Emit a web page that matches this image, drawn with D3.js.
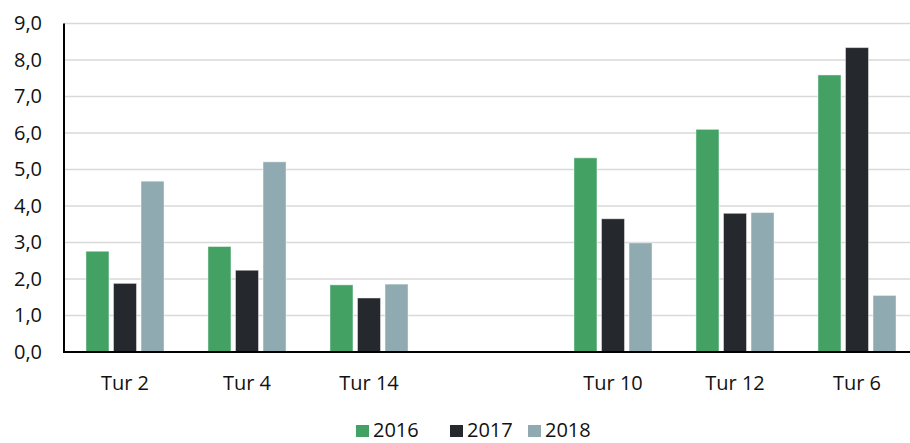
<!DOCTYPE html>
<html>
<head>
<meta charset="utf-8">
<script src="https://cdn.jsdelivr.net/npm/d3@7"></script>
<style>
  html, body { margin: 0; padding: 0; background: #ffffff; }
  svg { display: block; }
</style>
</head>
<body>
<svg id="chart"></svg>
<script>
// Chart data
const categories = ["Tur 2", "Tur 4", "Tur 14", "", "Tur 10", "Tur 12", "Tur 6"];
const seriesNames = ["2016", "2017", "2018"];
const values2016 = [2.76, 2.89, 1.84, null, 5.32, 6.10, 7.59];
const values2017 = [1.88, 2.24, 1.48, null, 3.65, 3.80, 8.34];
const values2018 = [4.68, 5.21, 1.86, null, 2.99, 3.82, 1.55];
const yTicks = [0, 1, 2, 3, 4, 5, 6, 7, 8, 9];
const colors = ["#43A163", "#25282C", "#8FAAB1"];

const width = 910, height = 443;
const margin = { top: 23.5, left: 64, bottom: 352, right: 918 };

const svg = d3.select("#chart")
    .attr("width", width)
    .attr("height", height)
    .attr("font-family", "'Open Sans', sans-serif");

// Scales
const yScale = d3.scaleLinear()
    .domain([0, 9])
    .range([margin.bottom, margin.top]);

const x0 = d3.scaleBand()
    .domain(d3.range(categories.length))
    .range([margin.left, margin.right])
    .paddingInner(0.36)
    .paddingOuter(0.18);

const x1 = d3.scaleBand()
    .domain(seriesNames)
    .range([0, x0.bandwidth()])
    .paddingInner(0.164);

// Gridlines
svg.append("g")
    .selectAll("line")
    .data(yTicks.filter(d => d > 0))
    .join("line")
    .attr("x1", margin.left)
    .attr("x2", width)
    .attr("y1", d => yScale(d))
    .attr("y2", d => yScale(d))
    .attr("stroke", "#d9d9d9")
    .attr("stroke-width", 1.5);

// Y axis labels
const yAxis = d3.axisLeft(yScale)
    .tickValues(yTicks)
    .tickSize(0)
    .tickPadding(22)
    .tickFormat(d => d3.format(".1f")(d).replace(".", ","));

svg.append("g")
    .attr("transform", `translate(${margin.left},0)`)
    .call(yAxis)
    .call(g => g.select(".domain").remove())
    .call(g => g.selectAll("text")
        .attr("font-size", "20px")
        .attr("font-family", "'Open Sans', sans-serif")
        .attr("fill", "#111"));

// Bars
const seriesData = [values2016, values2017, values2018];
const group = svg.append("g")
    .selectAll("g")
    .data(categories.map((c, i) => i))
    .join("g")
    .attr("transform", i => `translate(${x0(i)},0)`);

group.selectAll("rect")
    .data(i => seriesNames.map((s, k) => ({ s, k, v: seriesData[k][i] })).filter(d => d.v != null))
    .join("rect")
    .attr("x", d => x1(d.s))
    .attr("width", x1.bandwidth())
    .attr("y", d => yScale(d.v))
    .attr("height", d => yScale(0) - yScale(d.v))
    .attr("fill", d => colors[d.k])
    .attr("stroke", "rgba(255,255,255,0.45)")
    .attr("stroke-width", 1);

// Axis lines
svg.append("line")
    .attr("x1", margin.left).attr("x2", margin.left)
    .attr("y1", margin.top).attr("y2", margin.bottom + 1)
    .attr("stroke", "#000").attr("stroke-width", 2);

svg.append("line")
    .attr("x1", margin.left - 1).attr("x2", width)
    .attr("y1", margin.bottom).attr("y2", margin.bottom)
    .attr("stroke", "#000").attr("stroke-width", 2);

// X axis labels
const xAxis = d3.axisBottom(x0)
    .tickSize(0)
    .tickPadding(24)
    .tickFormat(i => categories[i]);

svg.append("g")
    .attr("transform", `translate(0,${margin.bottom})`)
    .call(xAxis)
    .call(g => g.select(".domain").remove())
    .call(g => g.selectAll("text")
        .attr("font-size", "20px")
        .attr("font-family", "'Open Sans', sans-serif")
        .attr("fill", "#111"));

// Legend
const legendStart = [356, 450, 528];
const legend = svg.append("g")
    .selectAll("g")
    .data(seriesNames)
    .join("g")
    .attr("transform", (d, i) => `translate(${legendStart[i]},0)`);

legend.append("rect")
    .attr("x", 0)
    .attr("y", 425)
    .attr("width", 13)
    .attr("height", 12)
    .attr("fill", (d, i) => colors[i]);

legend.append("text")
    .attr("x", 17)
    .attr("y", 437)
    .attr("font-size", "20px")
    .attr("fill", "#111")
    .text(d => d);
</script>
</body>
</html>
